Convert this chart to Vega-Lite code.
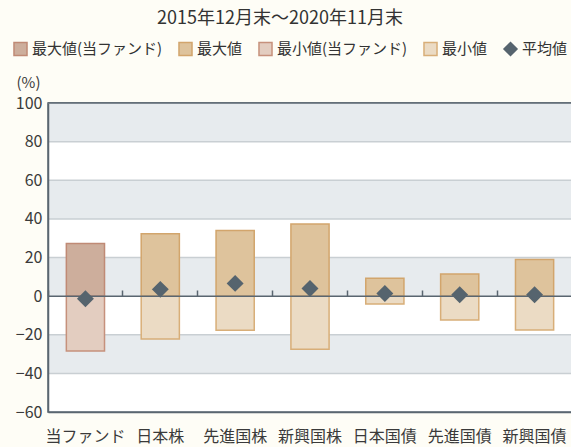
{
  "$schema": "https://vega.github.io/schema/vega-lite/v6.json",
  "autosize": "none",
  "width": 524,
  "height": 309,
  "padding": {"left": 48, "top": 103, "right": 0, "bottom": 35},
  "background": "#FEFDF6",
  "title": {
    "text": "2015年12月末～2020年11月末",
    "anchor": "start",
    "frame": "group",
    "dx": 109,
    "fontSize": 18,
    "fontWeight": "normal",
    "font": "Noto Sans CJK JP",
    "color": "#333333",
    "offset": 13
  },
  "config": {
    "font": "Noto Sans CJK JP",
    "view": {"fill": "white", "stroke": "#5A6670", "strokeWidth": 1.5},
    "axis": {"labelFont": "Noto Sans CJK JP", "labelColor": "#3A3A3A", "domainColor": "#5A6670", "domainWidth": 1.5},
    "axisY": {"values": [-60, -40, -20, 0, 20, 40, 60, 80, 100], "labelOverlap": false, "labelFlush": false, "tickCount": 9}
  },
  "datasets": {
    "main": [
      {"cat": "当ファンド", "series": "最大値(当ファンド)", "value": 27.2},
      {"cat": "当ファンド", "series": "最小値(当ファンド)", "value": -28.4},
      {"cat": "当ファンド", "series": "平均値", "value": -1.4},
      {"cat": "日本株", "series": "最大値", "value": 32.3},
      {"cat": "日本株", "series": "最小値", "value": -22.2},
      {"cat": "日本株", "series": "平均値", "value": 3.5},
      {"cat": "先進国株", "series": "最大値", "value": 34.0},
      {"cat": "先進国株", "series": "最小値", "value": -17.7},
      {"cat": "先進国株", "series": "平均値", "value": 6.6},
      {"cat": "新興国株", "series": "最大値", "value": 37.3},
      {"cat": "新興国株", "series": "最小値", "value": -27.5},
      {"cat": "新興国株", "series": "平均値", "value": 4.0},
      {"cat": "日本国債", "series": "最大値", "value": 9.2},
      {"cat": "日本国債", "series": "最小値", "value": -4.1},
      {"cat": "日本国債", "series": "平均値", "value": 1.4},
      {"cat": "先進国債", "series": "最大値", "value": 11.4},
      {"cat": "先進国債", "series": "最小値", "value": -12.3},
      {"cat": "先進国債", "series": "平均値", "value": 0.7},
      {"cat": "新興国債", "series": "最大値", "value": 19.0},
      {"cat": "新興国債", "series": "最小値", "value": -17.6},
      {"cat": "新興国債", "series": "平均値", "value": 0.7}
    ],
    "bands": [{"lo": 80, "hi": 100}, {"lo": 40, "hi": 60}, {"lo": 0, "hi": 20}, {"lo": -40, "hi": -20}],
    "grid": [{"v": -40}, {"v": -20}, {"v": 20}, {"v": 40}, {"v": 60}, {"v": 80}],
    "frame": [{"v": 0}, {"v": 100}]
  },
  "resolve": {"axis": {"x": "independent"}},
  "layer": [
    {
      "data": {"name": "bands"},
      "mark": {"type": "rect", "color": "#E7EBEE"},
      "encoding": {
        "y": {"field": "lo", "type": "quantitative", "scale": {"domain": [-60, 100], "nice": false, "zero": false},
          "axis": {"values": [-60, -40, -20, 0, 20, 40, 60, 80, 100], "labelOverlap": false, "zindex": 1, "grid": false, "ticks": false, "labelPadding": 6, "labelFontSize": 16, "domainColor": "#5A6670",
            "title": "(%)", "titleAngle": 0, "titleFontSize": 15, "titleFontWeight": "normal", "titleColor": "#3A3A3A", "titleFont": "Noto Sans CJK JP",
            "titleAlign": "center", "titleBaseline": "alphabetic", "titleX": -20, "titleY": -16}},
        "y2": {"field": "hi"}
      }
    },
    {
      "data": {"name": "grid"},
      "mark": {"type": "rule", "color": "#C9CFD3", "strokeWidth": 1.5},
      "encoding": {"y": {"field": "v", "type": "quantitative"}}
    },
    {
      "data": {"name": "main"},
      "transform": [{"filter": "datum.series !== '平均値'"}],
      "mark": {"type": "bar", "width": {"band": 0.51}, "strokeWidth": 1.5, "opacity": 1},
      "encoding": {
        "x": {"field": "cat", "type": "nominal", "sort": ["当ファンド", "日本株", "先進国株", "新興国株", "日本国債", "先進国債", "新興国債"],
          "scale": {"paddingInner": 0, "paddingOuter": 0},
          "axis": {"orient": "bottom", "title": null, "labelAngle": 0, "ticks": false, "labelPadding": 16, "labelFontSize": 16, "domain": true, "zindex": 1}},
        "y": {"field": "value", "type": "quantitative", "stack": null},
        "color": {"field": "series", "type": "nominal",
          "scale": {"domain": ["最大値(当ファンド)", "最大値", "最小値(当ファンド)", "最小値", "平均値"],
            "range": ["#CDAE9C", "#DEC39C", "#E3CDC0", "#EBDBC4", "#56646E"]},
          "legend": {"title": null, "orient": "none", "legendX": -35, "legendY": -62, "direction": "horizontal",
            "symbolSize": 170, "symbolStrokeWidth": 1.5, "labelFontSize": 15, "labelColor": "#333333", "labelFont": "Noto Sans CJK JP", "columnPadding": 12, "labelOffset": 4}},
        "stroke": {"field": "series", "type": "nominal",
          "scale": {"domain": ["最大値(当ファンド)", "最大値", "最小値(当ファンド)", "最小値", "平均値"],
            "range": ["#C08A75", "#D2A56C", "#C6917C", "#D8AE78", "#56646E"]},
          "legend": {"title": null}}
      }
    },
    {
      "data": {"name": "frame"},
      "mark": {"type": "rule", "color": "#5A6670", "strokeWidth": 1.5},
      "encoding": {"y": {"field": "v", "type": "quantitative"}}
    },
    {
      "data": {"name": "main"},
      "transform": [{"filter": "datum.series === '平均値'"}],
      "mark": {"type": "point", "filled": true, "size": 200, "opacity": 1},
      "encoding": {
        "x": {"field": "cat", "type": "nominal", "sort": ["当ファンド", "日本株", "先進国株", "新興国株", "日本国債", "先進国債", "新興国債"],
          "axis": {"orient": "top", "title": null, "labels": false, "domain": false, "ticks": true, "zindex": 1, "bandPosition": 0, "tickSize": 6, "tickColor": "#5A6670", "tickWidth": 1.5, "offset": -193}},
        "y": {"field": "value", "type": "quantitative"},
        "color": {"field": "series", "type": "nominal"},
        "stroke": {"field": "series", "type": "nominal"},
        "shape": {"field": "series", "type": "nominal",
          "scale": {"domain": ["最大値(当ファンド)", "最大値", "最小値(当ファンド)", "最小値", "平均値"],
            "range": ["square", "square", "square", "square", "diamond"]},
          "legend": {"title": null}}
      }
    }
  ]
}
